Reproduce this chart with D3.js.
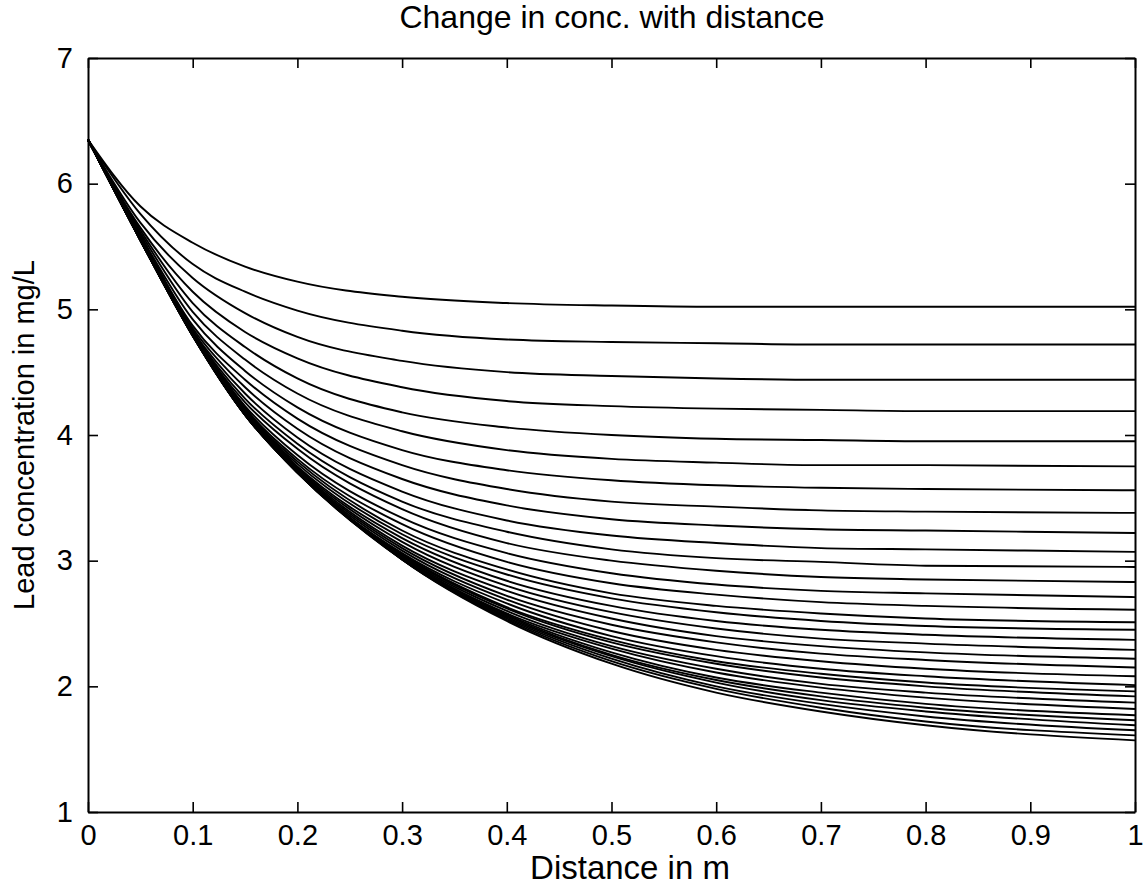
<!DOCTYPE html>
<html>
<head>
<meta charset="utf-8">
<script src="https://cdn.jsdelivr.net/npm/d3@7"></script>
<style>
  html, body { margin: 0; padding: 0; background: #fff; }
  svg { display: block; }
  text { font-family: "Liberation Sans", Arial, Helvetica, sans-serif; fill: #000; }
</style>
</head>
<body>
<svg id="chart" width="1144" height="891"></svg>
<script>
// Sampling positions along the column (m)
const distance = [0, 0.05, 0.1, 0.15, 0.2, 0.3, 0.4, 0.5, 0.6, 0.7, 0.8, 1.0];

// Lead concentration profiles (mg/L), one per run
const profile01 = [6.35, 5.82, 5.53, 5.34, 5.22, 5.10, 5.05, 5.03, 5.02, 5.02, 5.02, 5.02];
const profile02 = [6.35, 5.76, 5.36, 5.14, 4.99, 4.83, 4.76, 4.74, 4.73, 4.72, 4.72, 4.72];
const profile03 = [6.35, 5.69, 5.25, 4.97, 4.78, 4.59, 4.50, 4.47, 4.45, 4.44, 4.44, 4.44];
const profile04 = [6.35, 5.65, 5.14, 4.82, 4.61, 4.38, 4.27, 4.23, 4.21, 4.20, 4.19, 4.19];
const profile05 = [6.35, 5.63, 5.05, 4.70, 4.45, 4.18, 4.06, 4.00, 3.97, 3.96, 3.95, 3.95];
const profile06 = [6.35, 5.61, 4.98, 4.60, 4.33, 4.03, 3.88, 3.81, 3.78, 3.76, 3.76, 3.75];
const profile07 = [6.35, 5.59, 4.92, 4.51, 4.22, 3.88, 3.72, 3.64, 3.60, 3.58, 3.57, 3.56];
const profile08 = [6.35, 5.58, 4.87, 4.44, 4.13, 3.76, 3.57, 3.47, 3.43, 3.40, 3.39, 3.38];
const profile09 = [6.35, 5.57, 4.85, 4.38, 4.05, 3.65, 3.44, 3.33, 3.28, 3.25, 3.24, 3.22];
const profile10 = [6.35, 5.56, 4.83, 4.33, 3.98, 3.55, 3.32, 3.20, 3.14, 3.10, 3.09, 3.07];
const profile11 = [6.35, 5.56, 4.82, 4.29, 3.93, 3.47, 3.23, 3.09, 3.02, 2.99, 2.96, 2.95];
const profile12 = [6.35, 5.56, 4.81, 4.26, 3.89, 3.41, 3.14, 3.00, 2.92, 2.87, 2.85, 2.83];
const profile13 = [6.35, 5.55, 4.80, 4.23, 3.84, 3.34, 3.06, 2.90, 2.81, 2.76, 2.74, 2.71];
const profile14 = [6.35, 5.55, 4.80, 4.21, 3.81, 3.29, 2.99, 2.82, 2.73, 2.67, 2.64, 2.61];
const profile15 = [6.35, 5.55, 4.80, 4.19, 3.79, 3.24, 2.93, 2.74, 2.64, 2.58, 2.54, 2.51];
const profile16 = [6.35, 5.55, 4.79, 4.18, 3.77, 3.21, 2.89, 2.70, 2.59, 2.52, 2.48, 2.45];
const profile17 = [6.35, 5.55, 4.79, 4.17, 3.75, 3.18, 2.84, 2.64, 2.52, 2.45, 2.41, 2.37];
const profile18 = [6.35, 5.55, 4.79, 4.17, 3.74, 3.15, 2.80, 2.59, 2.46, 2.38, 2.34, 2.29];
const profile19 = [6.35, 5.55, 4.79, 4.16, 3.73, 3.12, 2.76, 2.54, 2.40, 2.32, 2.27, 2.22];
const profile20 = [6.35, 5.56, 4.79, 4.16, 3.72, 3.10, 2.72, 2.49, 2.35, 2.26, 2.21, 2.15];
const profile21 = [6.35, 5.56, 4.79, 4.16, 3.71, 3.08, 2.69, 2.44, 2.29, 2.20, 2.14, 2.08];
const profile22 = [6.35, 5.56, 4.80, 4.16, 3.70, 3.06, 2.66, 2.40, 2.24, 2.14, 2.08, 2.01];
const profile23 = [6.35, 5.56, 4.80, 4.16, 3.70, 3.05, 2.63, 2.37, 2.20, 2.10, 2.03, 1.96];
const profile24 = [6.35, 5.56, 4.80, 4.16, 3.70, 3.04, 2.62, 2.35, 2.18, 2.07, 2.00, 1.92];
const profile25 = [6.35, 5.57, 4.80, 4.16, 3.70, 3.03, 2.60, 2.32, 2.14, 2.02, 1.95, 1.87];
const profile26 = [6.35, 5.57, 4.81, 4.17, 3.70, 3.02, 2.58, 2.30, 2.11, 1.99, 1.91, 1.82];
const profile27 = [6.35, 5.57, 4.81, 4.18, 3.71, 3.02, 2.57, 2.27, 2.07, 1.95, 1.86, 1.77];
const profile28 = [6.35, 5.57, 4.81, 4.18, 3.71, 3.01, 2.56, 2.25, 2.05, 1.92, 1.83, 1.73];
const profile29 = [6.35, 5.58, 4.82, 4.19, 3.72, 3.02, 2.55, 2.24, 2.03, 1.89, 1.80, 1.69];
const profile30 = [6.35, 5.58, 4.82, 4.20, 3.72, 3.01, 2.54, 2.22, 2.00, 1.86, 1.76, 1.65];
const profile31 = [6.35, 5.58, 4.83, 4.21, 3.73, 3.01, 2.53, 2.20, 1.98, 1.83, 1.72, 1.61];
const profile32 = [6.35, 5.59, 4.83, 4.22, 3.74, 3.01, 2.52, 2.18, 1.95, 1.80, 1.69, 1.57];

const profiles = [
  profile01, profile02, profile03, profile04, profile05, profile06, profile07, profile08,
  profile09, profile10, profile11, profile12, profile13, profile14, profile15, profile16,
  profile17, profile18, profile19, profile20, profile21, profile22, profile23, profile24,
  profile25, profile26, profile27, profile28, profile29, profile30, profile31, profile32
];

// Axis ticks and labels
const xTicks = [0, 0.1, 0.2, 0.3, 0.4, 0.5, 0.6, 0.7, 0.8, 0.9, 1];
const xTickLabels = ["0", "0.1", "0.2", "0.3", "0.4", "0.5", "0.6", "0.7", "0.8", "0.9", "1"];
const yTicks = [1, 2, 3, 4, 5, 6, 7];
const yTickLabels = ["1", "2", "3", "4", "5", "6", "7"];

const titleText = "Change in conc. with distance";
const xLabelText = "Distance in m";
const yLabelText = "Lead concentration in mg/L";

// Layout
const plot = { left: 88, right: 1135, top: 58, bottom: 812 };
const fontSize = 29;
const tickLen = 10;

const svg = d3.select("#chart");

const x = d3.scaleLinear().domain([0, 1]).range([plot.left, plot.right]);
const y = d3.scaleLinear().domain([1, 7]).range([plot.bottom, plot.top]);

// Curves
const line = d3.line()
  .x((d, i) => x(distance[i]))
  .y(d => y(d))
  .curve(d3.curveMonotoneX);

svg.append("g")
  .attr("class", "curves")
  .selectAll("path")
  .data(profiles)
  .join("path")
  .attr("d", line)
  .attr("fill", "none")
  .attr("stroke", "#000")
  .attr("stroke-width", 1.9)
  .attr("stroke-linejoin", "round");

// Axes: ticks point inward on all four sides
function styleAxis(g) {
  g.attr("font-size", fontSize)
   .attr("font-family", "'Liberation Sans', Arial, Helvetica, sans-serif");
  g.select(".domain").attr("stroke", "#000").attr("stroke-width", 2);
  g.selectAll(".tick line").attr("stroke", "#000").attr("stroke-width", 1.6);
  g.selectAll(".tick text").attr("fill", "#000");
}

svg.append("g")
  .attr("transform", `translate(0,${plot.bottom})`)
  .call(d3.axisBottom(x).tickValues(xTicks)
    .tickFormat((d, i) => xTickLabels[i])
    .tickSizeInner(-tickLen).tickSizeOuter(0).tickPadding(12))
  .call(styleAxis);

svg.append("g")
  .attr("transform", `translate(0,${plot.top})`)
  .call(d3.axisTop(x).tickValues(xTicks).tickFormat("")
    .tickSizeInner(-tickLen).tickSizeOuter(0))
  .call(styleAxis);

svg.append("g")
  .attr("transform", `translate(${plot.left},0)`)
  .call(d3.axisLeft(y).tickValues(yTicks)
    .tickFormat((d, i) => yTickLabels[i])
    .tickSizeInner(-tickLen).tickSizeOuter(0).tickPadding(15))
  .call(styleAxis);

svg.append("g")
  .attr("transform", `translate(${plot.right},0)`)
  .call(d3.axisRight(y).tickValues(yTicks).tickFormat("")
    .tickSizeInner(-tickLen).tickSizeOuter(0))
  .call(styleAxis);

// Title and axis labels
svg.append("text")
  .attr("x", 612)
  .attr("y", 28)
  .attr("text-anchor", "middle")
  .attr("font-size", 32)
  .text(titleText);

svg.append("text")
  .attr("x", 630)
  .attr("y", 879)
  .attr("text-anchor", "middle")
  .attr("font-size", 33)
  .text(xLabelText);

svg.append("text")
  .attr("transform", `translate(34,${(plot.top + plot.bottom) / 2}) rotate(-90)`)
  .attr("text-anchor", "middle")
  .attr("font-size", fontSize)
  .text(yLabelText);
</script>
</body>
</html>
